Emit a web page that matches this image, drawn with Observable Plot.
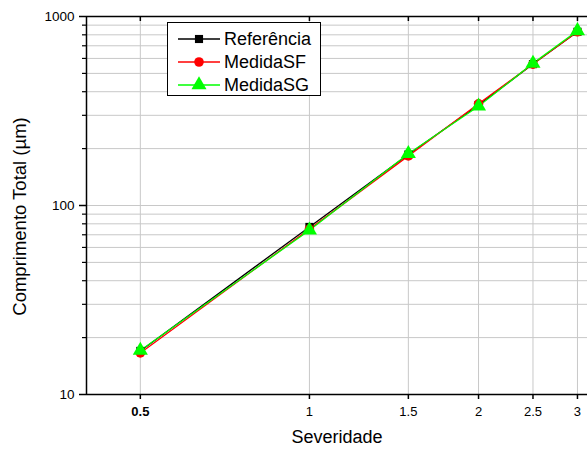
<!DOCTYPE html>
<html>
<head>
<meta charset="utf-8">
<script src="https://cdn.jsdelivr.net/npm/d3@7"></script>
<script src="https://cdn.jsdelivr.net/npm/@observablehq/plot@0.6"></script>
<style>
  body { margin: 0; background: #fff; font-family: "Liberation Sans", Arial, sans-serif; }
  #wrap { position: relative; width: 587px; height: 452px; overflow: hidden; }
  #legend { position: absolute; left: 167px; top: 22px; width: 154px; height: 74px; border: 1px solid #000; background: #fff; box-sizing: border-box; }
  .row { position: absolute; left: 0; height: 20px; display: flex; align-items: center; }
  .row span { font-size: 18px; color: #000; margin-left: 4px; white-space: nowrap; }
</style>
</head>
<body>
<div id="wrap"></div>
<script>
const severidade = [0.5, 1, 1.5, 2, 2.5, 3];
const referencia = [17.0, 77, 186, 340, 560, 830];
const medidaSF   = [16.6, 75, 183, 345, 560, 830];
const medidaSG   = [17.1, 74, 188, 335, 565, 840];
const seriesNames = ["Referência", "MedidaSF", "MedidaSG"];
const seriesColors = ["#000000", "#ff0000", "#00ff00"];
const seriesSymbols = ["square", "circle", "triangle"];
const xTicks = [0.5, 1, 1.5, 2, 2.5, 3];
const yMajor = [10, 100, 1000];
const yMinor = [20,30,40,50,60,70,80,90,200,300,400,500,600,700,800,900];

const allY = [referencia, medidaSF, medidaSG];
const data = [];
seriesNames.forEach((name, i) => {
  severidade.forEach((x, j) => data.push({series: name, x, y: allY[i][j]}));
});

const xDomain = [0.401, 3.126];
const yDomain = [10, 1000];

const marks = [
  Plot.gridY(yMinor.concat(yMajor), {stroke: "#c8c8c8", strokeOpacity: 1, strokeWidth: 1}),
  Plot.gridX(xTicks, {stroke: "#c8c8c8", strokeOpacity: 1, strokeWidth: 1}),
  // frame lines
  Plot.ruleY([yDomain[0]], {stroke: "#000", strokeWidth: 1.5}),
  Plot.ruleY([yDomain[1]], {stroke: "#000", strokeWidth: 1.5}),
  Plot.ruleX([xDomain[0]], {stroke: "#000", strokeWidth: 1.5}),
  // y axis
  Plot.axisY({ticks: yMajor, tickSize: 7, tickPadding: 5, tickFormat: d => String(d), fontSize: 13.5, label: null, stroke: "#000", strokeWidth: 1.5}),
  Plot.axisY({ticks: yMinor, tickSize: 4, tickFormat: () => "", label: null, stroke: "#000", strokeWidth: 1.2}),
  // x axis bottom
  Plot.axisX({ticks: xTicks.filter(d => d !== 0.5), tickSize: 5, tickPadding: 7, tickFormat: d => String(d), fontSize: 13, label: null, stroke: "#000", strokeWidth: 1.5}),
  Plot.axisX({ticks: [0.5], tickSize: 5, tickPadding: 7, tickFormat: d => String(d), fontSize: 13, fontWeight: "bold", label: null, stroke: "#000", strokeWidth: 1.5}),
  // x axis top (inward ticks)
  Plot.axisX({anchor: "top", ticks: xTicks, tickSize: -4, tickFormat: () => "", label: null, stroke: "#000", strokeWidth: 1.5}),
  // lines
  ...seriesNames.map((name, i) => Plot.line(data.filter(d => d.series === name), {x: "x", y: "y", stroke: seriesColors[i], strokeWidth: 1.3})),
  // markers
  ...seriesNames.map((name, i) => Plot.dot(data.filter(d => d.series === name), {
    x: "x", y: "y", symbol: seriesSymbols[i], fill: seriesColors[i], stroke: "none",
    r: i === 0 ? 4.6 : (i === 1 ? 4.8 : 5.6)
  })),
  // axis titles
  Plot.text(["Severidade"], {frameAnchor: "bottom", dy: 48, fontSize: 18, fill: "#000", textAnchor: "middle"}),
  Plot.text(["Comprimento Total (\u00b5m)"], {frameAnchor: "left", dx: -66, dy: 11, rotate: -90, fontSize: 18.5, fill: "#000", textAnchor: "middle"})
];

const chart = Plot.plot({
  width: 587,
  height: 452,
  marginLeft: 86,
  marginRight: 0,
  marginTop: 16,
  marginBottom: 58,
  style: {fontFamily: "'Liberation Sans', Arial, sans-serif", background: "#fff", color: "#000", overflow: "visible"},
  x: {type: "log", domain: xDomain, axis: null},
  y: {type: "log", domain: yDomain, axis: null},
  marks
});

const wrap = document.getElementById("wrap");
wrap.appendChild(chart);

// legend
const legend = document.createElement("div");
legend.id = "legend";
seriesNames.forEach((name, i) => {
  const row = document.createElement("div");
  row.className = "row";
  row.style.top = (6 + i * 23) + "px";
  row.style.left = "10px";
  const s = d3.create("svg").attr("width", 42).attr("height", 20);
  s.append("line").attr("x1", 0).attr("x2", 42).attr("y1", 10).attr("y2", 10)
    .attr("stroke", seriesColors[i]).attr("stroke-width", 1.3);
  const sym = d3.symbol().type(i === 0 ? d3.symbolSquare : (i === 1 ? d3.symbolCircle : d3.symbolTriangle))
    .size(i === 0 ? 66 : (i === 1 ? 72 : 98));
  s.append("path").attr("d", sym()).attr("transform", "translate(21,10)").attr("fill", seriesColors[i]);
  row.appendChild(s.node());
  const t = document.createElement("span");
  t.textContent = name;
  row.appendChild(t);
  legend.appendChild(row);
});
wrap.appendChild(legend);
</script>
</body>
</html>
